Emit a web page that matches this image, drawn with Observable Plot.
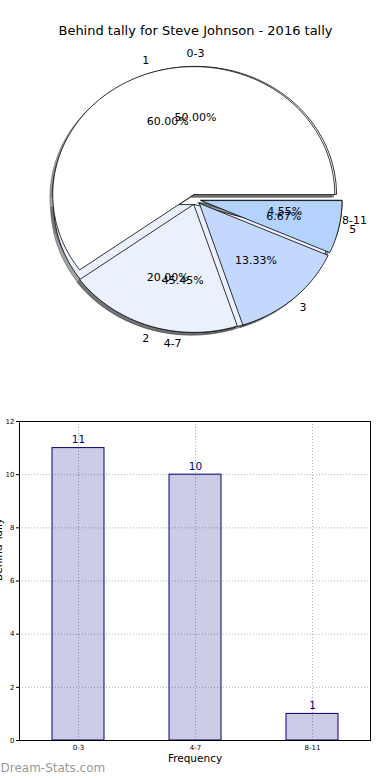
<!DOCTYPE html>
<html><head><meta charset="utf-8">
<script src="https://cdn.jsdelivr.net/npm/d3@7"></script>
<script src="https://cdn.jsdelivr.net/npm/@observablehq/plot@0.6"></script>
<style>
html,body{margin:0;padding:0;background:#fff;overflow:hidden;}
#chart{position:relative;width:390px;height:780px;font-family:"DejaVu Sans",sans-serif;}
#chart svg{display:block;}
</style></head><body><div id="chart"></div>
<script>
// ---- data ----
const title = "Behind tally for Steve Johnson - 2016 tally";
const groupLabels = ["0-3", "4-7", "8-11"];
const groupCounts = [11, 10, 1];
const pullLabels = ["1", "2", "3", "5"];
const pullCounts = [9, 3, 2, 1];
const yTicks = [0, 2, 4, 6, 8, 10, 12];
const xLabel = "Frequency";
const yLabel = "Behind Tally";
const watermark = "Dream-Stats.com";

// ---- styles ----
const paletteA = ["#ffffff", "#eaf1fd", "#c4d8fd"];
const paletteB = ["#ffffff", "#eaf1fd", "#c4d8fd", "#b3d3fd"];
const FONT = "DejaVu Sans, Verdana, sans-serif";

// pie geometry (matplotlib-like: start at 0 deg, counter-clockwise)
const EXPLODE = 0.04, LABEL_D = 1.1, PCT_D = 0.6, SHADOW = -0.02;
const W1 = 390, H1 = 395, CX = 195, CY = 199, RX = 141, RY = 128;

function buildPie(name, labels, counts, palette) {
  const total = d3.sum(counts);
  let acc = 0;
  const polys = [], texts = [];
  counts.forEach((v, i) => {
    const a0 = acc / total * 360, a1 = (acc + v) / total * 360; acc += v;
    const mid = (a0 + a1) / 2 * Math.PI / 180;
    const ox = EXPLODE * Math.cos(mid), oy = EXPLODE * Math.sin(mid);
    const key = name + i;
    const fill = palette[i];
    const c = d3.rgb(fill);
    const shade = d3.rgb(c.r * 0.3, c.g * 0.3, c.b * 0.3).formatHex();
    const pts = [[ox, oy]];
    const n = Math.max(2, Math.ceil(a1 - a0));
    for (let k = 0; k <= n; k++) {
      const a = (a0 + (a1 - a0) * k / n) * Math.PI / 180;
      pts.push([ox + Math.cos(a), oy + Math.sin(a)]);
    }
    pts.push([ox, oy]);
    pts.forEach(([x, y]) => polys.push({key, x, y, fill, shade}));
    texts.push({
      label: labels[i], pct: (v / total * 100).toFixed(2) + "%",
      lx: ox + LABEL_D * Math.cos(mid), ly: oy + LABEL_D * Math.sin(mid),
      px: ox + PCT_D * Math.cos(mid), py: oy + PCT_D * Math.sin(mid),
      anchor: Math.cos(mid) > 0 ? "start" : "end"
    });
  });
  return {polys, texts};
}

const pieA = buildPie("A", groupLabels, groupCounts, paletteA);
const pieB = buildPie("B", pullLabels, pullCounts, paletteB);
const allTexts = pieA.texts.concat(pieB.texts);

const shadowMark = (polys) => Plot.line(polys, {
  x: d => d.x + SHADOW, y: d => d.y + SHADOW, z: "key",
  fill: "shade", stroke: "shade", fillOpacity: 0.5, strokeOpacity: 0.5, strokeWidth: 1, curve: "linear"
});
const wedgeMark = (polys) => Plot.line(polys, {
  x: "x", y: "y", z: "key", fill: "fill", stroke: "#000", strokeWidth: 0.8, curve: "linear", strokeLinejoin: "miter"
});

const pie = Plot.plot({
  width: W1, height: H1, margin: 0,
  style: {fontFamily: FONT, background: "white", color: "#000"},
  x: {domain: [-CX / RX, (W1 - CX) / RX], axis: null},
  y: {domain: [-(H1 - CY) / RY, CY / RY], axis: null},
  color: {type: "identity"},
  marks: [
    Plot.text([title], {frameAnchor: "top", dy: 30, lineAnchor: "middle", fontSize: 13, fill: "#000"}),
    shadowMark(pieA.polys),
    shadowMark(pieB.polys),
    wedgeMark(pieA.polys),
    wedgeMark(pieB.polys),
    Plot.text(allTexts, {x: "lx", y: "ly", text: "label", textAnchor: "anchor", lineAnchor: "middle", fontSize: 11, fill: "#000"}),
    Plot.text(allTexts, {x: "px", y: "py", text: "pct", textAnchor: "middle", lineAnchor: "middle", fontSize: 11, fill: "#000"})
  ]
});

// ---- bar chart ----
const bars = groupLabels.map((g, i) => ({g, n: groupCounts[i]}));
const barChart = Plot.plot({
  width: 390, height: 385,
  marginTop: 26, marginBottom: 40, marginLeft: 19, marginRight: 20,
  style: {fontFamily: FONT, fontSize: "7px", background: "white", color: "#000"},
  x: {domain: groupLabels, paddingInner: 0.557, paddingOuter: 0.272, label: null, tickSize: 0, tickPadding: 5},
  y: {domain: [0, 12], ticks: yTicks, tickFormat: "d", label: null, tickSize: 3, tickPadding: 2},
  marks: [
    Plot.ruleY(yTicks.slice(1, -1), {stroke: "#b0b0b0", strokeDasharray: "1,2"}),
    Plot.ruleX(groupLabels, {x: d => d, stroke: "#b0b0b0", strokeDasharray: "1,2"}),
    Plot.barY(bars, {x: "g", y: "n", fill: "navy", fillOpacity: 0.2, stroke: "navy", strokeWidth: 1}),
    Plot.text(bars, {x: "g", y: "n", text: d => String(d.n), dy: -8, fill: "navy", fontSize: 10.5}),
    Plot.frame({stroke: "#000"}),
    Plot.text([xLabel], {frameAnchor: "bottom", dy: 21, fontSize: 10.5, fill: "#000"}),
    Plot.text([yLabel], {frameAnchor: "left", dx: -21, rotate: -90, fontSize: 10.5, fill: "#000"}),
    Plot.text([watermark], {frameAnchor: "bottom-left", dx: -19, dy: 31, textAnchor: "start", fill: "#9a9a9a", fontSize: 12})
  ]
});

const root = document.getElementById("chart");
root.appendChild(pie);
root.appendChild(barChart);
</script>
</body></html>
